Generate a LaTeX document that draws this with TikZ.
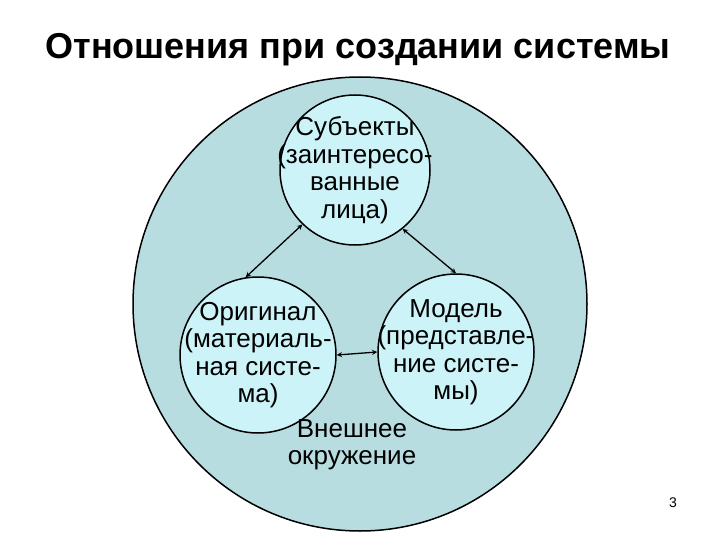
\documentclass[tikz,border=0pt]{standalone}
\usepackage{fontspec}
\setmainfont{Liberation Sans}
\definecolor{outerfill}{HTML}{B8DDE1}
\definecolor{innerfill}{HTML}{CCF3F7}
\begin{document}
\begin{tikzpicture}[x=1pt,y=-1pt,
  circ/.style={circle,draw=black,line width=1.5pt,fill=innerfill,minimum size=#1,inner sep=0pt},
  conn/.style={<->,>=stealth,line width=1.3pt},
  lbl/.style={align=center,font=\fontsize{26}{27.5}\selectfont}]
\useasboundingbox (0,0) rectangle (720,540);
\node[circle,draw=black,line width=1.5pt,fill=outerfill,minimum size=454,inner sep=0pt] (outer) at (360,304) {};
\node[circ=150] (top) at (355,170) {};
\node[circ=156] (left) at (258,355) {};
\node[circ=156] (right) at (456,352) {};
\node[lbl] (toptext) at (top.center) {Субъекты\\(заинтересо-\\ванные\\лица)};
\node[lbl] (lefttext) at (left.center) {Оригинал\\(материаль-\\ная систе-\\ма)};
\node[lbl] (righttext) at (right.center) {Модель\\(представле-\\ние систе-\\мы)};
\node[lbl] (env) at (352,445) {Внешнее\\окружение};
\node[font=\bfseries\fontsize{36}{40}\selectfont] (title) at (358,50) {Отношения при создании системы};
\node[font=\fontsize{14}{16}\selectfont] (num) at (673,503) {3};
\draw[conn] (top.226) -- (left.99);
\draw[conn] (top.309) -- (right.90);
\draw[conn] (left.east) -- (right.west);
\end{tikzpicture}
\end{document}
